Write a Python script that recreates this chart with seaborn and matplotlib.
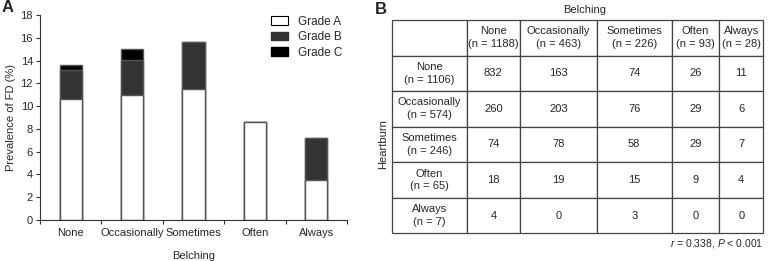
import matplotlib as mpl
mpl.use('Agg')
import matplotlib.pyplot as plt
from matplotlib.patches import Patch
import numpy as np
import pandas as pd
import seaborn as sns

# bar chart data (panel A)
categories = ['None', 'Occasionally', 'Sometimes', 'Often', 'Always']
grade_a = [10.6, 11.0, 11.5, 8.6, 3.55]
grade_b = [2.6, 3.05, 4.1, 0.0, 3.65]
grade_c = [0.4, 0.95, 0.0, 0.0, 0.0]

# cross table data (panel B)
col_labels = ['None', 'Occasionally', 'Sometimes', 'Often', 'Always']
col_n = [1188, 463, 226, 93, 28]
row_labels = ['None', 'Occasionally', 'Sometimes', 'Often', 'Always']
row_n = [1106, 574, 246, 65, 7]
counts = [[832, 163, 74, 26, 11],
          [260, 203, 76, 29, 6],
          [74, 78, 58, 29, 7],
          [18, 19, 15, 9, 4],
          [4, 0, 3, 0, 0]]

sns.set_style('ticks')
plt.rcParams['font.family'] = ['Liberation Sans', 'DejaVu Sans']
plt.rcParams['mathtext.fontset'] = 'custom'
plt.rcParams['mathtext.rm'] = 'Liberation Sans'
plt.rcParams['mathtext.it'] = 'Liberation Sans:italic'

W, H = 768, 261
fig = plt.figure(figsize=(W / 100, H / 100), dpi=100)

def px_axes(x0, y0, x1, y1):
    return fig.add_axes([x0 / W, 1 - y1 / H, (x1 - x0) / W, (y1 - y0) / H])

# ---- panel A ----
ax = px_axes(40, 15, 347, 220)
df = pd.DataFrame({'cat': categories,
                   'A': grade_a,
                   'AB': np.add(grade_a, grade_b),
                   'ABC': np.add(np.add(grade_a, grade_b), grade_c)})
edge = '#555555'
bw = 0.36
sns.barplot(data=df, x='cat', y='ABC', color='black', edgecolor=edge,
            linewidth=1, width=bw, saturation=1, ax=ax)
sns.barplot(data=df, x='cat', y='AB', color='#333333', edgecolor=edge,
            linewidth=1, width=bw, saturation=1, ax=ax)
sns.barplot(data=df, x='cat', y='A', color='white', edgecolor=edge,
            linewidth=1, width=bw, saturation=1, ax=ax)

ax.set_xlim(-0.5, 4.5)
ax.set_ylim(0, 18)
ax.set_yticks(range(0, 19, 2))
ax.set_xticks(range(5))
ax.set_xticklabels(categories)
ax.set_xticks(np.arange(-0.5, 5, 1), minor=True)
ax.tick_params(axis='x', which='major', length=0, pad=6, labelsize=8)
ax.tick_params(axis='x', which='minor', length=3, width=0.8, color='#333333')
ax.tick_params(axis='y', length=3, width=0.8, color='#333333', labelsize=8, pad=2)
for s in ['top', 'right']:
    ax.spines[s].set_visible(False)
for s in ['left', 'bottom']:
    ax.spines[s].set_color('#333333')
    ax.spines[s].set_linewidth(0.8)
ax.set_xlabel('Belching', fontsize=8, labelpad=9)
ax.set_ylabel('Prevalence of FD (%)', fontsize=8, labelpad=3)

handles = [Patch(facecolor='white', edgecolor='black', linewidth=0.8, label='Grade A'),
           Patch(facecolor='#333333', edgecolor='#333333', label='Grade B'),
           Patch(facecolor='black', edgecolor='black', label='Grade C')]
ax.legend(handles=handles, loc='upper right', bbox_to_anchor=(1.0, 1.02), frameon=False,
          fontsize=8.5, handlelength=1.5, handleheight=0.75, labelspacing=0.3,
          handletextpad=0.8, borderaxespad=0)

fig.text(2 / W, 1 - 7 / H, 'A', fontsize=12, fontweight='bold', va='center', ha='left')

# ---- panel B ----
tx = px_axes(391.7, 20, 763.3, 233.3)
tx.axis('off')
cell_text = [[''] + [f'{c}\n(n = {n})' for c, n in zip(col_labels, col_n)]]
for lab, n, row in zip(row_labels, row_n, counts):
    cell_text.append([f'{lab}\n(n = {n})'] + [str(v) for v in row])
col_px = [75, 53.3, 76.7, 75, 47.6, 44]
col_w = [c / sum(col_px) for c in col_px]
tab = tx.table(cellText=cell_text, colWidths=col_w, cellLoc='center', bbox=[0, 0, 1, 1])
tab.auto_set_font_size(False)
tab.set_fontsize(8)
for (r, c), cell in tab.get_celld().items():
    cell.set_edgecolor('#444444')
    cell.set_linewidth(0.9)
    cell.get_text().set_linespacing(1.35)
    cell.PAD = 0.02

fig.text(375 / W, 1 - 9 / H, 'B', fontsize=12, fontweight='bold', va='center', ha='left')
fig.text(585 / W, 1 - 10 / H, 'Belching', fontsize=8, va='center', ha='center')
fig.text(383 / W, 1 - 144 / H, 'Heartburn', fontsize=8, va='center', ha='center', rotation=90)
fig.text(763 / W, 1 - 243 / H, r'$r$ = 0.338, $P$ < 0.001', fontsize=7.5, va='center', ha='right')

fig.savefig('out.png', dpi=100)
